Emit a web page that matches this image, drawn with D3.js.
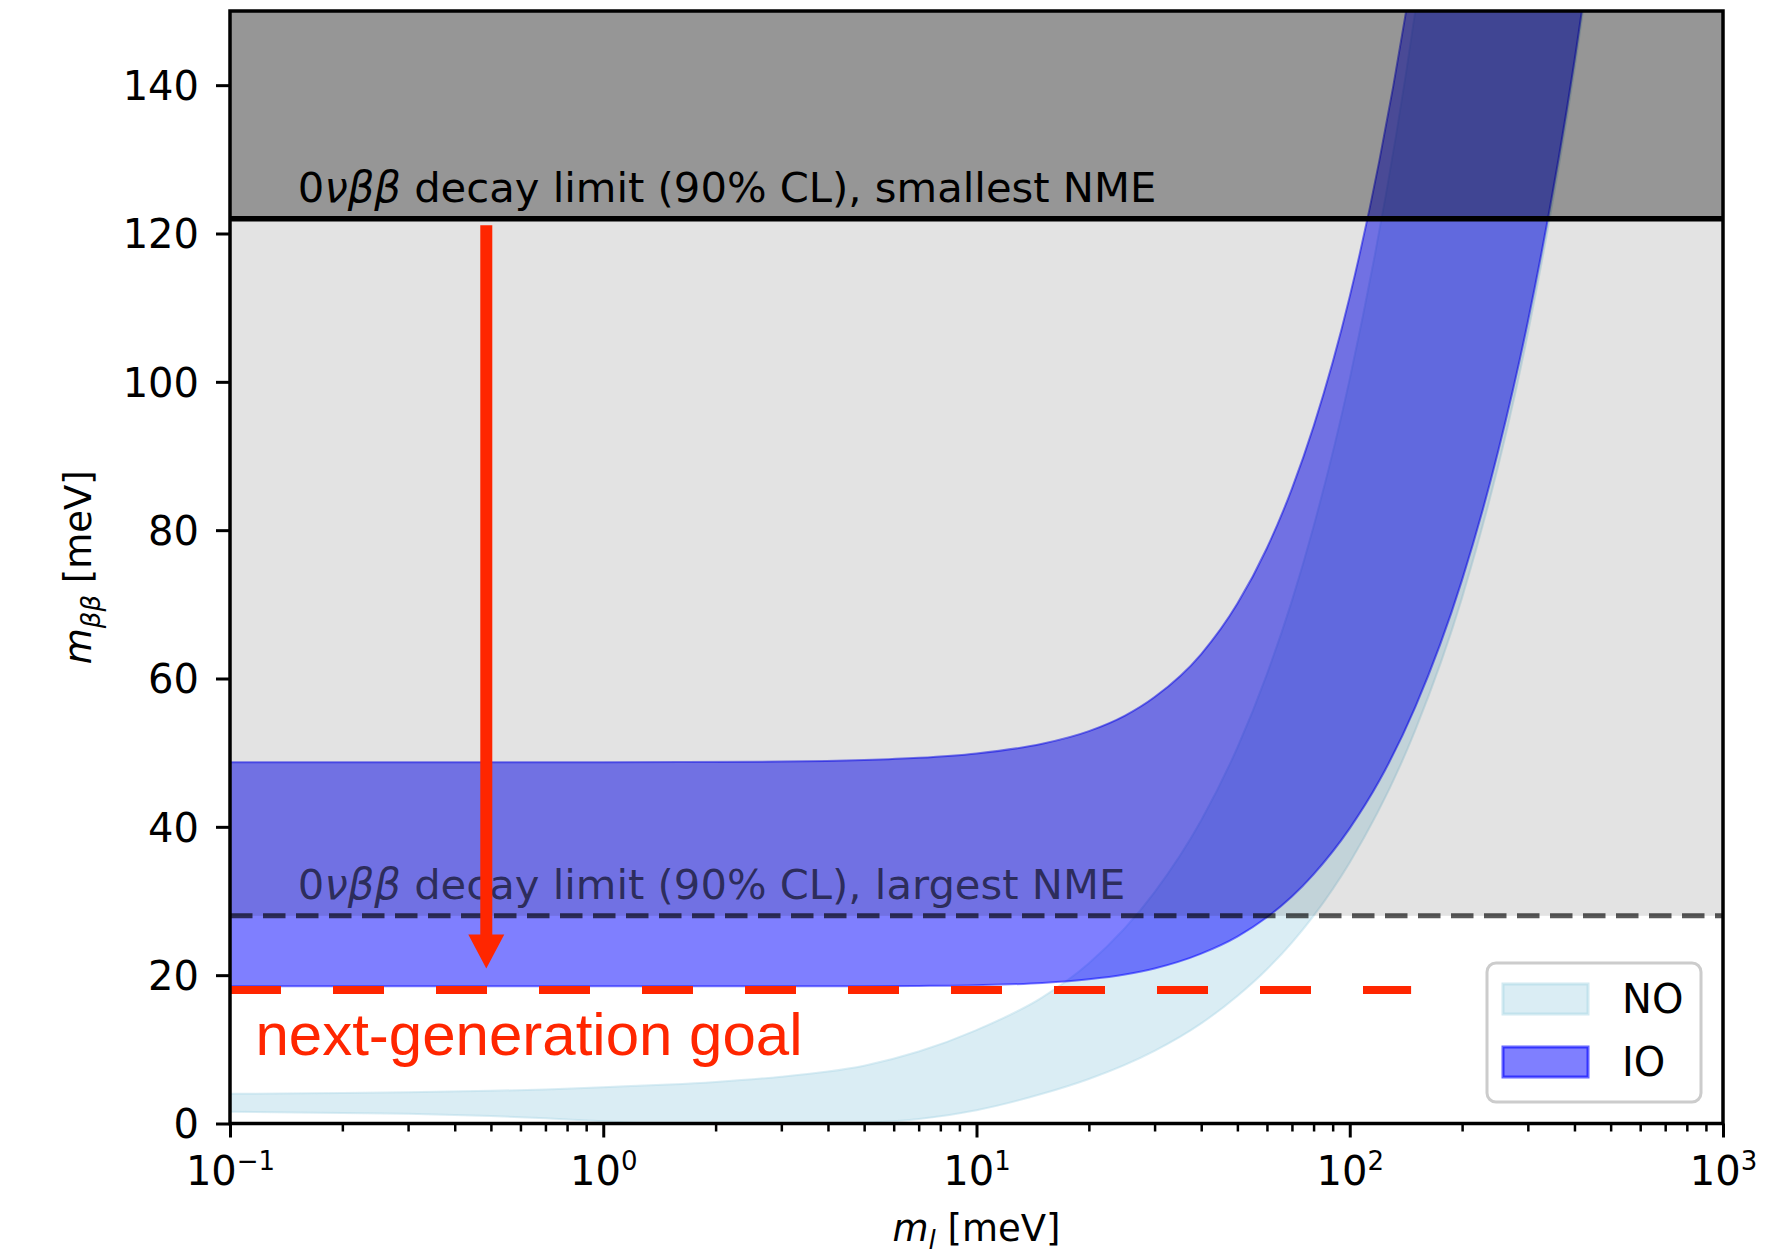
<!DOCTYPE html>
<html>
	<head>
		<meta charset="utf-8">
		<title>m_bb vs lightest neutrino mass</title>
		<style>
			body { margin: 0; background: #fff; }
			text { font-family: "DejaVu Sans", sans-serif; }
		</style>
	</head>

	<body>
		<script src="https://d3js.org/d3.v7.min.js" charset="utf-8"></script>

		<script>
		// lightest neutrino mass (meV) and band edges of m_bb (meV)
		var noMass = [0.1, 0.2, 0.3, 0.5, 0.7, 1, 1.5, 2, 3, 4, 5, 7, 10, 15, 20, 30, 40, 50, 60, 70, 80, 100, 150, 200, 300, 400, 500];
		var noLow  = [1.6, 1.4, 1.3, 1.0, 0.7, 0.3, 0, 0, 0, 0, 0.1, 0.6, 1.8, 4.0, 6.0, 9.8, 13.5, 17.2, 20.8, 24.4, 28.0, 35.2, 53.1, 70.9, 106.5, 142.1, 177.7];
		var noHigh = [4.0, 4.1, 4.2, 4.4, 4.6, 4.9, 5.25, 5.6, 6.3, 7.0, 7.8, 9.7, 12.6, 17.0, 21.6, 31.2, 40.9, 50.7, 60.6, 70.5, 80.5, 100.4, 150.2, 200.2, 300.1, 400.1, 500.1];

		var ioMass = [0.1, 1, 3, 5, 7, 10, 15, 20, 25, 30, 40, 50, 60, 70, 80, 100, 120, 150, 200, 250, 300, 400, 500];
		var ioLow  = [18.5, 18.5, 18.5, 18.5, 18.55, 18.65, 18.95, 19.45, 20.1, 20.9, 22.9, 25.2, 27.8, 30.6, 33.6, 39.8, 46.2, 56.2, 73.3, 90.7, 108.1, 143.3, 178.7];
		var ioHigh = [48.7, 48.7, 48.8, 49.0, 49.3, 49.9, 51.2, 52.9, 55.0, 57.5, 63.3, 70.1, 77.6, 85.6, 94.0, 111.5, 129.8, 158.0, 206, 255, 304, 403, 503];

		// limits and annotations (meV)
		var limitSmallest = 122;
		var limitLargest = 28;
		var goalLevel = 18;
		var goalEnd = 146;
		var arrowMass = 0.486;
		var arrowFrom = 121.1;
		var arrowTo = 20.9;

		var labelSmallest = "smallest NME";
		var labelLargest = "largest NME";
		var labelGoal = "next-generation goal";

		// ticks
		var xTicks = [0.1, 1, 10, 100, 1000];
		var xTickExp = ["\u22121", "0", "1", "2", "3"];
		var yTicks = [0, 20, 40, 60, 80, 100, 120, 140];

		var legendNames = ["NO", "IO"];
		var legendColors = ["lightblue", "blue"];
		var legendAlpha = [0.45, 0.5];

		var svg = d3.select("body").append("svg")
			.attr("width", 1789)
			.attr("height", 1257);

		var pLeft = 230, pRight = 1723, pTop = 11, pBottom = 1123.5;

		var x = d3.scaleLog().domain([0.1, 1000]).range([pLeft, pRight]);
		var y = d3.scaleLinear().domain([0, 150]).range([pBottom, pTop]);

		svg.append("defs").append("clipPath").attr("id", "plot")
			.append("rect")
			.attr("x", pLeft).attr("y", pTop)
			.attr("width", pRight - pLeft).attr("height", pBottom - pTop);

		var plot = svg.append("g").attr("clip-path", "url(#plot)");

		var area = d3.area()
			.x(function (d) { return x(d.m); })
			.y0(function (d) { return y(d.lo); })
			.y1(function (d) { return y(d.hi); })
			.curve(d3.curveMonotoneX);

		var noRows = noMass.map(function (m, i) { return { m: m, lo: noLow[i], hi: noHigh[i] }; });
		var ioRows = ioMass.map(function (m, i) { return { m: m, lo: ioLow[i], hi: ioHigh[i] }; });

		// bands
		plot.append("path")
			.attr("d", area(noRows))
			.style("fill", legendColors[0]).style("fill-opacity", legendAlpha[0])
			.style("stroke", legendColors[0]).style("stroke-opacity", legendAlpha[0]).style("stroke-width", 2);

		plot.append("path")
			.attr("d", area(ioRows))
			.style("fill", legendColors[1]).style("fill-opacity", legendAlpha[1])
			.style("stroke", legendColors[1]).style("stroke-opacity", legendAlpha[1]).style("stroke-width", 2);

		// excluded regions (grey shading on top of the bands)
		plot.append("rect")
			.attr("x", pLeft).attr("width", pRight - pLeft)
			.attr("y", y(150)).attr("height", y(limitSmallest) - y(150))
			.style("fill", "#000").style("fill-opacity", 0.41);

		plot.append("rect")
			.attr("x", pLeft).attr("width", pRight - pLeft)
			.attr("y", y(limitSmallest)).attr("height", y(limitLargest) - y(limitSmallest))
			.style("fill", "#000").style("fill-opacity", 0.11);

		plot.append("line")
			.attr("x1", pLeft).attr("x2", pRight)
			.attr("y1", y(limitSmallest)).attr("y2", y(limitSmallest))
			.style("stroke", "#000").style("stroke-width", 5.5);

		plot.append("line")
			.attr("x1", pLeft).attr("x2", pRight)
			.attr("y1", y(limitLargest)).attr("y2", y(limitLargest))
			.style("stroke", "#000").style("stroke-opacity", 0.65)
			.style("stroke-width", 5).style("stroke-dasharray", "22.5,10.5");

		function limitText(level, tail, opacity) {
			var t = svg.append("text")
				.attr("x", x(0.152)).attr("y", y(level + 2.3))
				.style("font-size", "41.7px")
				.style("fill", "#000").style("fill-opacity", opacity);
			t.append("tspan").text("0");
			t.append("tspan").style("font-style", "italic").text("\u03BD\u03B2\u03B2");
			t.append("tspan").text(" decay limit (90% CL), " + tail);
		}
		limitText(limitSmallest, labelSmallest, 1);
		limitText(limitLargest, labelLargest, 0.62);

		// next-generation goal: dashed line, arrow and label
		var red = "#ff2600";
		svg.append("line")
			.attr("x1", x(0.1)).attr("x2", x(goalEnd))
			.attr("y1", y(goalLevel)).attr("y2", y(goalLevel))
			.style("stroke", red).style("stroke-width", 8)
			.style("stroke-dasharray", "51,52");

		var headLen = 34, headHalf = 18;
		svg.append("line")
			.attr("x1", x(arrowMass)).attr("x2", x(arrowMass))
			.attr("y1", y(arrowFrom)).attr("y2", y(arrowTo) - headLen + 2)
			.style("stroke", red).style("stroke-width", 12);

		svg.append("path")
			.attr("d", "M" + (x(arrowMass) - headHalf) + "," + (y(arrowTo) - headLen) +
				"L" + (x(arrowMass) + headHalf) + "," + (y(arrowTo) - headLen) +
				"L" + x(arrowMass) + "," + y(arrowTo) + "Z")
			.style("fill", red);

		svg.append("text")
			.attr("x", x(0.117)).attr("y", y(9.2))
			.style("font-family", "'Liberation Sans', Arial, sans-serif")
			.style("font-size", "60px")
			.style("fill", red)
			.text(labelGoal);

		// axes
		var gx = svg.append("g").attr("transform", "translate(0," + pBottom + ")")
			.call(d3.axisBottom(x).tickValues(xTicks).tickSize(14).tickSizeOuter(0).tickFormat(""));
		gx.select(".domain").remove();
		gx.selectAll(".tick line").style("stroke-width", 3);
		gx.selectAll(".tick").each(function (d, i) {
			var t = d3.select(this).append("text")
				.attr("y", 61).attr("text-anchor", "middle")
				.style("font-size", "40px").style("fill", "#000");
			t.append("tspan").text("10");
			t.append("tspan").attr("dy", -15).style("font-size", "26px").text(xTickExp[i]);
		});

		var minor = [];
		[0.1, 1, 10, 100].forEach(function (dec) {
			for (var k = 2; k < 10; k++) minor.push(dec * k);
		});
		var gm = svg.append("g").attr("transform", "translate(0," + pBottom + ")")
			.call(d3.axisBottom(x).tickValues(minor).tickSize(8).tickSizeOuter(0).tickFormat(""));
		gm.select(".domain").remove();
		gm.selectAll(".tick line").style("stroke-width", 2.5);

		var gy = svg.append("g").attr("transform", "translate(" + pLeft + ",0)")
			.call(d3.axisLeft(y).tickValues(yTicks).tickSize(14).tickSizeOuter(0));
		gy.select(".domain").remove();
		gy.selectAll(".tick line").style("stroke-width", 3);
		gy.selectAll(".tick text")
			.attr("x", -31).attr("dy", "0.36em")
			.style("font-size", "40px").style("font-family", "DejaVu Sans").style("fill", "#000");

		svg.append("rect")
			.attr("x", pLeft).attr("y", pTop)
			.attr("width", pRight - pLeft).attr("height", pBottom - pTop)
			.style("fill", "none").style("stroke", "#000").style("stroke-width", 3.5);

		// axis labels
		var xl = svg.append("text")
			.attr("x", (pLeft + pRight) / 2).attr("y", 1241)
			.attr("text-anchor", "middle").style("font-size", "37px");
		xl.append("tspan").style("font-style", "italic").text("m");
		xl.append("tspan").attr("dy", 8).style("font-style", "italic").style("font-size", "26px").text("l");
		xl.append("tspan").attr("dy", -8).text(" [meV]");

		var yl = svg.append("text")
			.attr("transform", "translate(91," + ((pTop + pBottom) / 2) + ") rotate(-90)")
			.attr("text-anchor", "middle").style("font-size", "37px");
		yl.append("tspan").style("font-style", "italic").text("m");
		yl.append("tspan").attr("dy", 9).style("font-style", "italic").style("font-size", "26px").text("\u03B2\u03B2");
		yl.append("tspan").attr("dy", -9).text(" [meV]");

		// legend
		var lg = svg.append("g").attr("transform", "translate(1487,963)");
		lg.append("rect")
			.attr("width", 214).attr("height", 139).attr("rx", 9)
			.style("fill", "#fff").style("fill-opacity", 0.8)
			.style("stroke", "#cccccc").style("stroke-width", 3);

		var entry = lg.selectAll("g.entry")
			.data(legendNames)
			.enter().append("g")
			.attr("class", "entry")
			.attr("transform", function (d, i) { return "translate(0," + (i * 63) + ")"; });

		entry.append("rect")
			.attr("x", 16).attr("y", 21).attr("width", 85).attr("height", 30)
			.style("fill", function (d, i) { return legendColors[i]; })
			.style("fill-opacity", function (d, i) { return legendAlpha[i]; })
			.style("stroke", function (d, i) { return legendColors[i]; })
			.style("stroke-opacity", function (d, i) { return legendAlpha[i] + 0.1; })
			.style("stroke-width", 3);

		entry.append("text")
			.attr("x", 135).attr("y", 36).attr("dy", "0.36em")
			.style("font-size", "40px")
			.text(function (d) { return d; });
		</script>
	</body>
</html>
